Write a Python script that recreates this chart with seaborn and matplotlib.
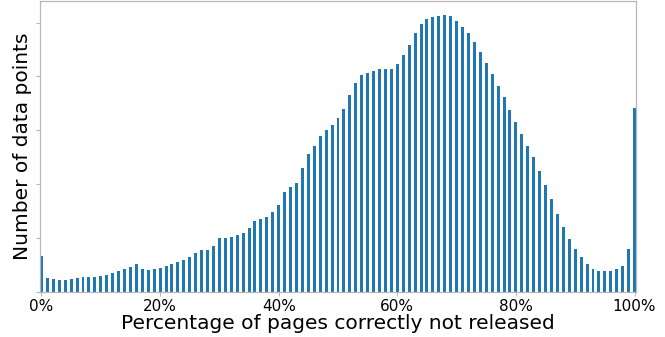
import matplotlib
matplotlib.use("Agg")
import matplotlib.pyplot as plt
import seaborn as sns
import pandas as pd

# Share of pages correctly not released (0..100 %) and how many data points fall in each bin
percent_bins = list(range(0, 101))
data_points = [
    659, 259, 241, 228, 228, 246, 259, 278, 278, 278,
    296, 315, 344, 389, 426, 456, 515, 430, 407, 426,
    450, 474, 519, 556, 598, 654, 715, 778, 783, 852,
    1006, 1006, 1019, 1056, 1102, 1185, 1326, 1352, 1389, 1481,
    1622, 1852, 1950, 2024, 2307, 2561, 2709, 2889, 3011, 3093,
    3222, 3394, 3654, 3876, 4019, 4074, 4111, 4130, 4141, 4130,
    4228, 4400, 4593, 4807, 4981, 5074, 5104, 5122, 5144, 5117,
    5024, 4919, 4807, 4635, 4450, 4252, 4043, 3826, 3611, 3376,
    3154, 2926, 2715, 2500, 2246, 1991, 1733, 1456, 1209, 987,
    796, 641, 519, 431, 394, 381, 394, 426, 481, 789,
    3419,
]
tick_positions = [0, 20, 40, 60, 80, 100]
tick_labels = ["0%", "20%", "40%", "60%", "80%", "100%"]
y_ticks = [0, 1000, 2000, 3000, 4000, 5000]

df = pd.DataFrame({"pct": percent_bins, "count": data_points})

sns.set_style("white")
plt.rcParams.update({"text.color": "black", "axes.labelcolor": "black",
                     "xtick.color": "black", "ytick.color": "black"})
fig = plt.figure(figsize=(6.65, 3.37), dpi=100)
ax = fig.add_axes([40 / 665, 45 / 337, 596 / 665, 291 / 337])

sns.barplot(data=df, x="pct", y="count", order=percent_bins, color="#1f77b4",
            saturation=1, width=0.5, linewidth=0, edgecolor="none", ax=ax)

ax.set_xlim(-0.25, 100.25)
ax.set_xticks(tick_positions)
ax.set_xticklabels(tick_labels, fontsize=11)
ax.set_yticks(y_ticks)
ax.set_yticklabels([])
ax.set_ylim(0, max(data_points) * 1.05)

for s in ax.spines.values():
    s.set_color("#b8b8b8")
    s.set_linewidth(0.9)
ax.tick_params(axis="both", which="major", length=3, width=0.8, color="#b8b8b8",
               labelcolor="black", bottom=True, left=True, pad=2)

ax.set_xlabel("Percentage of pages correctly not released", fontsize=14.5, labelpad=0)
ax.set_ylabel("Number of data points", fontsize=14.5, labelpad=1)

fig.savefig("out.png", dpi=100)
